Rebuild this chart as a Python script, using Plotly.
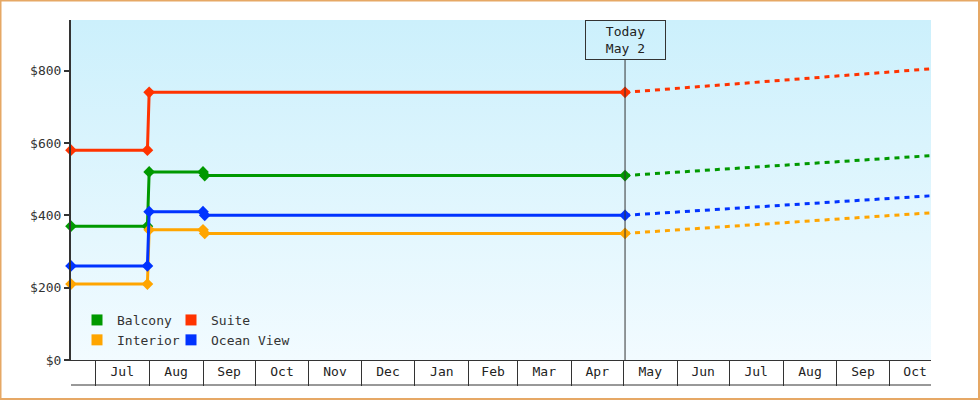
import base64
import plotly.graph_objects as go

# --- data --------------------------------------------------------------
hist_dates = ["2022-06-17", "2022-07-31", "2022-08-01", "2022-09-01", "2022-09-02", "2023-05-02"]
balcony_hist = [370, 370, 520, 520, 510, 510]
interior_hist = [210, 210, 360, 360, 350, 350]
ocean_hist = [260, 260, 410, 410, 400, 400]

suite_dates = ["2022-06-17", "2022-07-31", "2022-08-01", "2023-05-02"]
suite_hist = [580, 580, 740, 740]

fc_dates = ["2023-05-02", "2023-10-25"]
balcony_fc = [510, 565]
interior_fc = [350, 407]
suite_fc = [740, 805]
ocean_fc = [400, 454]

today = "2023-05-02"
today_label = "Today<br>May 2"

series = [
    ("Balcony", "#009900", hist_dates, balcony_hist, balcony_fc, "legend"),
    ("Interior", "#ffa500", hist_dates, interior_hist, interior_fc, "legend"),
    ("Suite", "#ff3300", suite_dates, suite_hist, suite_fc, "legend2"),
    ("Ocean View", "#0033ff", hist_dates, ocean_hist, ocean_fc, "legend2"),
]

FONT = "DejaVu Sans Mono"
INK = "#333333"

fig = go.Figure()
for name, color, dates, hist, fc, leg in series:
    fig.add_trace(go.Scatter(
        x=dates, y=hist, mode="lines+markers", showlegend=False,
        line=dict(color=color, width=3),
        marker=dict(symbol="diamond", size=9, color=color),
        cliponaxis=False, hoverinfo="x+y", name=name,
    ))
    fig.add_trace(go.Scatter(
        x=fc_dates, y=fc, mode="lines", showlegend=False,
        line=dict(color=color, width=3, dash="5px,5px"),
        hoverinfo="x+y", name=name + " forecast",
    ))

# legend swatches (square)
for name, color, dates, hist, fc, leg in series:
    fig.add_trace(go.Scatter(
        x=[None], y=[None], mode="markers", name=name, legend=leg,
        marker=dict(symbol="square", size=11, color=color),
    ))

# gradient background for the plot area
svg = ('<svg xmlns="http://www.w3.org/2000/svg" width="10" height="100" preserveAspectRatio="none">'
       '<defs><linearGradient id="g" x1="0" y1="0" x2="0" y2="1">'
       '<stop offset="0" stop-color="#ccf0fc"/><stop offset="1" stop-color="#f2fbff"/>'
       '</linearGradient></defs><rect width="10" height="100" fill="url(#g)"/></svg>')
bg_uri = "data:image/svg+xml;base64," + base64.b64encode(svg.encode()).decode()

W, H = 980, 400
L, R, T, B = 71, 49, 20, 40
pw, ph = W - L - R, H - T - B

fig.update_layout(
    width=W, height=H,
    margin=dict(l=L, r=R, t=T, b=B),
    paper_bgcolor="white",
    plot_bgcolor="rgba(0,0,0,0)",
    font=dict(family=FONT, size=13, color=INK),
    images=[dict(source=bg_uri, xref="paper", yref="paper", x=0, y=1,
                 sizex=1, sizey=1, sizing="stretch", layer="below")],
    legend=dict(x=(77 - L) / pw, y=(360 - 305) / ph, xanchor="left", yanchor="top",
                bgcolor="rgba(0,0,0,0)", font=dict(size=13, family=FONT, color=INK),
                tracegroupgap=0, itemwidth=30),
    legend2=dict(x=(171 - L) / pw, y=(360 - 305) / ph, xanchor="left", yanchor="top",
                 bgcolor="rgba(0,0,0,0)", font=dict(size=13, family=FONT, color=INK),
                 tracegroupgap=0, itemwidth=30),
    showlegend=True,
    hovermode="closest",
)

fig.update_xaxes(
    type="date",
    range=["2022-06-17", "2023-10-25 04:00"],
    dtick="M1", tick0="2022-07-01",
    tickformat="%b", ticklabelmode="period",
    ticks="outside", ticklen=25, tickcolor=INK, tickwidth=1,
    ticklabelstandoff=-26,
    showgrid=False, zeroline=False,
    showline=True, linecolor=INK, linewidth=1,
    tickfont=dict(family=FONT, size=13, color="#222222"),
)
fig.update_yaxes(
    range=[0, 940], dtick=200, tickprefix="$",
    showgrid=False, zeroline=False,
    showline=True, linecolor=INK, linewidth=2,
    ticks="outside", ticklen=5, tickwidth=2, tickcolor=INK,
    tickfont=dict(family=FONT, size=13, color=INK),
)

# bottom line of the month strip
fig.add_shape(type="line", xref="paper", yref="paper", x0=0, x1=1,
              y0=-25 / ph, y1=-25 / ph, line=dict(color=INK, width=1))
# today marker line and box
fig.add_shape(type="line", xref="x", yref="paper", x0=today, x1=today,
              y0=0, y1=(360 - 60) / ph, line=dict(color=INK, width=1))
fig.add_annotation(x=today, xref="x", y=1, yref="paper", xanchor="center", yanchor="top",
                   text=today_label, showarrow=False, align="center",
                   width=77, height=36, borderpad=1, borderwidth=1, bordercolor=INK,
                   bgcolor="rgba(0,0,0,0)", font=dict(family=FONT, size=13, color="#222222"))
# outer frame
fig.add_shape(type="rect", xref="paper", yref="paper",
              x0=(0.5 - L) / pw, x1=(W - 1 - L) / pw,
              y0=(T + ph - (H - 1)) / ph, y1=(T + ph - 0.5) / ph,
              line=dict(color="#e6a865", width=2), fillcolor="rgba(0,0,0,0)")

fig.write_html("out.html", config={"displayModeBar": False},
               post_script="document.body.style.margin='0';")
